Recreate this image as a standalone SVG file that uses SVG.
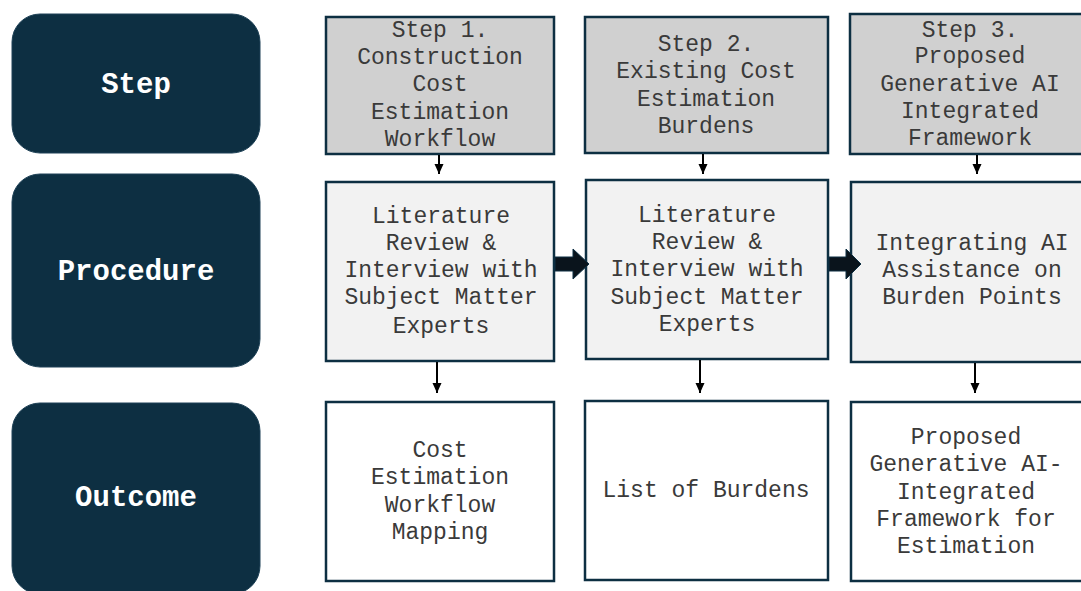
<svg xmlns="http://www.w3.org/2000/svg" width="1081" height="591" viewBox="0 0 1081 591">
  <defs>
    <style>
      .lbl { fill: #0d2f42; stroke: #1e4156; stroke-width: 1; }
      .lbltxt { font-family: "Liberation Mono", "Courier New", monospace; font-weight: bold; font-size: 29px; fill: #ffffff; text-anchor: middle; }
      .box { stroke: #0d2f42; stroke-width: 2.5; }
      .step { fill: #d0d0d0; }
      .proc { fill: #f2f2f2; }
      .out { fill: #ffffff; }
      .txt { font-family: "Liberation Mono", "Courier New", monospace; font-size: 23px; fill: #3a3a3a; text-anchor: middle; }
      .thin { stroke: #000000; stroke-width: 2; fill: none; }
      .fat { fill: #0a141c; stroke: #0d2f42; stroke-width: 1; }
    </style>
    <marker id="ah" markerUnits="userSpaceOnUse" markerWidth="10" markerHeight="10" viewBox="0 0 10 10" refX="10" refY="5" orient="auto">
      <path d="M0,0.5 L10,5 L0,9.5 Z" fill="#000000"/>
    </marker>
  </defs>

  <rect width="1081" height="591" fill="#ffffff"/>

  <!-- Row labels -->
  <g id="label-step">
    <rect class="lbl" x="12" y="14" width="248" height="139" rx="28" ry="28"/>
    <text class="lbltxt" x="136" y="93">Step</text>
  </g>
  <g id="label-procedure">
    <rect class="lbl" x="12" y="174" width="248" height="193" rx="28" ry="28"/>
    <text class="lbltxt" x="136" y="280">Procedure</text>
  </g>
  <g id="label-outcome">
    <rect class="lbl" x="12" y="403" width="248" height="191" rx="28" ry="28"/>
    <text class="lbltxt" x="136" y="506">Outcome</text>
  </g>

  <!-- Step row -->
  <g id="step1">
    <rect class="box step" x="326" y="17" width="228" height="137"/>
    <text class="txt" x="440" y="37">Step 1.</text>
    <text class="txt" x="440" y="64">Construction</text>
    <text class="txt" x="440" y="91">Cost</text>
    <text class="txt" x="440" y="119">Estimation</text>
    <text class="txt" x="440" y="146">Workflow</text>
  </g>
  <g id="step2">
    <rect class="box step" x="585" y="17" width="243" height="136"/>
    <text class="txt" x="706" y="51">Step 2.</text>
    <text class="txt" x="706" y="78">Existing Cost</text>
    <text class="txt" x="706" y="106">Estimation</text>
    <text class="txt" x="706" y="133">Burdens</text>
  </g>
  <g id="step3">
    <rect class="box step" x="850" y="14" width="240" height="140"/>
    <text class="txt" x="970" y="37">Step 3.</text>
    <text class="txt" x="970" y="63">Proposed</text>
    <text class="txt" x="970" y="91">Generative AI</text>
    <text class="txt" x="970" y="118">Integrated</text>
    <text class="txt" x="970" y="145">Framework</text>
  </g>

  <!-- Procedure row -->
  <g id="proc1">
    <rect class="box proc" x="326" y="182" width="228" height="179"/>
    <text class="txt" x="441" y="223">Literature</text>
    <text class="txt" x="441" y="250">Review &amp;</text>
    <text class="txt" x="441" y="277">Interview with</text>
    <text class="txt" x="441" y="304">Subject Matter</text>
    <text class="txt" x="441" y="333">Experts</text>
  </g>
  <g id="proc2">
    <rect class="box proc" x="586" y="180" width="242" height="179"/>
    <text class="txt" x="707" y="222">Literature</text>
    <text class="txt" x="707" y="249">Review &amp;</text>
    <text class="txt" x="707" y="276">Interview with</text>
    <text class="txt" x="707" y="304">Subject Matter</text>
    <text class="txt" x="707" y="331">Experts</text>
  </g>
  <g id="proc3">
    <rect class="box proc" x="851" y="182" width="240" height="180"/>
    <text class="txt" x="972" y="250">Integrating AI</text>
    <text class="txt" x="972" y="277">Assistance on</text>
    <text class="txt" x="972" y="304">Burden Points</text>
  </g>

  <!-- Outcome row -->
  <g id="out1">
    <rect class="box out" x="326" y="402" width="228" height="179"/>
    <text class="txt" x="440" y="457">Cost</text>
    <text class="txt" x="440" y="484">Estimation</text>
    <text class="txt" x="440" y="512">Workflow</text>
    <text class="txt" x="440" y="539">Mapping</text>
  </g>
  <g id="out2">
    <rect class="box out" x="585" y="401" width="243" height="179"/>
    <text class="txt" x="706" y="497">List of Burdens</text>
  </g>
  <g id="out3">
    <rect class="box out" x="851" y="402" width="240" height="179"/>
    <text class="txt" x="966" y="444">Proposed</text>
    <text class="txt" x="966" y="471">Generative AI-</text>
    <text class="txt" x="966" y="499">Integrated</text>
    <text class="txt" x="966" y="526">Framework for</text>
    <text class="txt" x="966" y="553">Estimation</text>
  </g>

  <!-- Connectors -->
  <g id="connectors">
    <line class="thin" x1="439" y1="155" x2="439" y2="174" marker-end="url(#ah)"/>
    <line class="thin" x1="703" y1="154" x2="703" y2="174" marker-end="url(#ah)"/>
    <line class="thin" x1="977" y1="155" x2="977" y2="174" marker-end="url(#ah)"/>
    <line class="thin" x1="437" y1="362" x2="437" y2="393" marker-end="url(#ah)"/>
    <line class="thin" x1="700" y1="360" x2="700" y2="393" marker-end="url(#ah)"/>
    <line class="thin" x1="975" y1="363" x2="975" y2="393" marker-end="url(#ah)"/>
    <polygon class="fat" points="555,257 573,257 573,249 589,264 573,279 573,271 555,271"/>
    <polygon class="fat" points="829,257 846,257 846,249 861,264 846,279 846,271 829,271"/>
  </g>
</svg>
